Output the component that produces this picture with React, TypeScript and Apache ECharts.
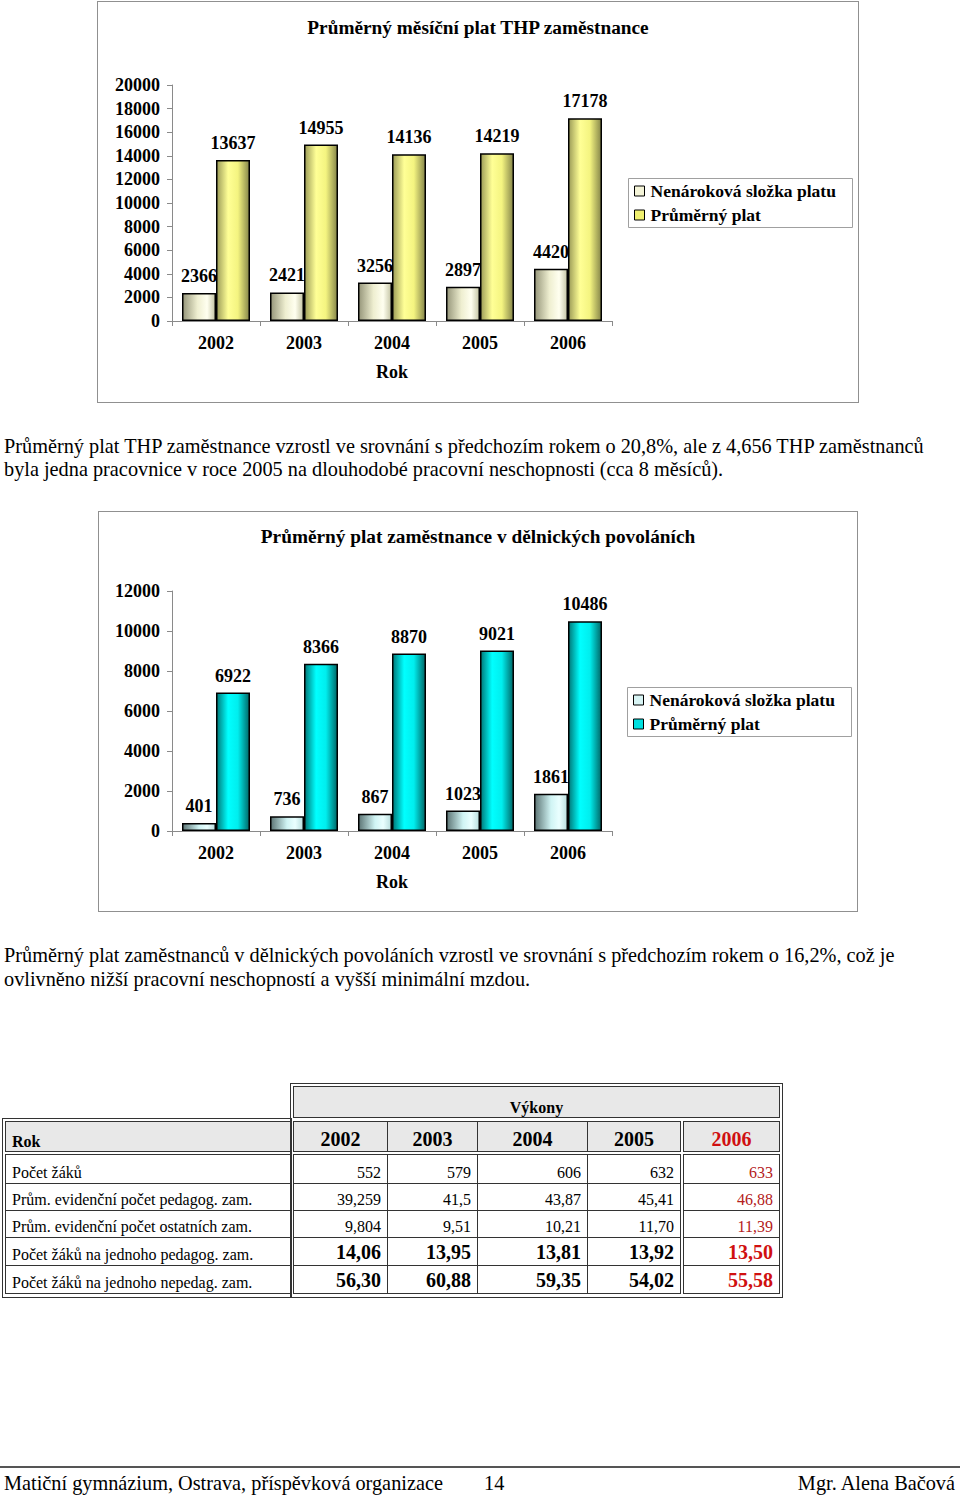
import React, { useEffect, useRef } from 'react';
import * as echarts from 'echarts';

const SERIF = '"Liberation Serif", "Times New Roman", serif';

const years = ['2002', '2003', '2004', '2005', '2006'];
const seriesNames = ['Nenároková složka platu', 'Průměrný plat'];
const thpBonus = [2366, 2421, 3256, 2897, 4420];
const thpAvg = [13637, 14955, 14136, 14219, 17178];
const workerBonus = [401, 736, 867, 1023, 1861];
const workerAvg = [6922, 8366, 8870, 9021, 10486];

const rowLabels = [
  'Počet žáků',
  'Prům. evidenční počet pedagog. zam.',
  'Prům. evidenční počet ostatních zam.',
  'Počet žáků na jednoho pedagog. zam.',
  'Počet žáků na jednoho nepedag. zam.',
];
const rowValues = [
  ['552', '579', '606', '632', '633'],
  ['39,259', '41,5', '43,87', '45,41', '46,88'],
  ['9,804', '9,51', '10,21', '11,70', '11,39'],
  ['14,06', '13,95', '13,81', '13,92', '13,50'],
  ['56,30', '60,88', '59,35', '54,02', '55,58'],
];
const rowBold = [false, false, false, true, true];

const grad = (stops: [number, string][]) => ({
  type: 'linear', x: 0, y: 0, x2: 1, y2: 0,
  colorStops: stops.map(([offset, color]) => ({ offset, color })),
});

const creamGrad = grad([[0, '#96967a'], [0.45, '#eeeed0'], [0.75, '#fffff0'], [1, '#c4c4a4']]);
const yellowGrad = grad([[0, '#9c9c58'], [0.35, '#ffff96'], [0.65, '#f4f480'], [1, '#86864a']]);
const paleCyanGrad = grad([[0, '#5c7474'], [0.5, '#d0f4f4'], [0.75, '#eaffff'], [1, '#b8dede']]);
const cyanGrad = grad([[0, '#007878'], [0.35, '#00ffff'], [0.65, '#00eeee'], [1, '#006868']]);

type ChartProps = {
  title: string;
  s1: number[];
  s2: number[];
  max: number;
  c1: any;
  c2: any;
  icon1: string;
  icon2: string;
  gridTop: number;
  gridHeight: number;
  gridLeft: number;
  titleTop: number;
  legendTop: number;
  legendLeft: number;
  width: number;
  height: number;
};

function BarChart(p: ChartProps) {
  const ref = useRef<HTMLDivElement>(null);
  useEffect(() => {
    if (!ref.current) return;
    const chart = echarts.init(ref.current, undefined, { renderer: 'svg' });
    const txt = { fontFamily: SERIF, fontWeight: 'bold' as const, fontSize: 18, color: '#000' };
    const mkSeries = (name: string, data: number[], color: any) => ({
      name,
      type: 'bar',
      data,
      barWidth: 34,
      barGap: '0%',
      itemStyle: { color, borderColor: '#000', borderWidth: 1.5 },
      label: {
        show: true,
        position: 'top',
        distance: 8,
        formatter: (v: any) => String(v.value),
        ...txt,
      },
    });
    chart.setOption({
      animation: false,
      title: {
        text: p.title,
        left: 'center',
        top: p.titleTop,
        textStyle: { fontFamily: SERIF, fontWeight: 'bold', fontSize: 19.3, color: '#000' },
      },
      graphic: [
        {
          type: 'rect',
          left: p.legendLeft,
          top: p.legendTop,
          shape: { width: 224, height: 49 },
          style: { fill: '#fff', stroke: '#a0a0a0', lineWidth: 1 },
          z: 0,
        },
      ],
      legend: {
        orient: 'vertical',
        left: p.legendLeft + 6,
        top: p.legendTop + 4,
        itemWidth: 10,
        itemHeight: 10,
        itemGap: 6,
        icon: 'rect',
        padding: 0,
        textStyle: { ...txt, fontSize: 17.5, padding: [0, 0, 0, 1] },
        data: [
          { name: seriesNames[0], itemStyle: { color: p.icon1, borderColor: '#000', borderWidth: 1 } },
          { name: seriesNames[1], itemStyle: { color: p.icon2, borderColor: '#000', borderWidth: 1 } },
        ],
        z: 5,
      },
      grid: { left: p.gridLeft, top: p.gridTop, width: 440, height: p.gridHeight, containLabel: false },
      xAxis: {
        type: 'category',
        data: years,
        name: 'Rok',
        nameLocation: 'middle',
        nameGap: 42,
        nameTextStyle: txt,
        axisLine: { lineStyle: { color: '#8a8a8a' } },
        axisTick: { show: true, length: 5, lineStyle: { color: '#8a8a8a' } },
        axisLabel: { ...txt, margin: 13 },
      },
      yAxis: {
        type: 'value',
        min: 0,
        max: p.max,
        interval: 2000,
        splitLine: { show: false },
        axisLine: { show: true, lineStyle: { color: '#8a8a8a' } },
        axisTick: { show: true, length: 5, lineStyle: { color: '#8a8a8a' } },
        axisLabel: { ...txt, margin: 12, formatter: (v: number) => String(v) },
      },
      series: [mkSeries(seriesNames[0], p.s1, p.c1), mkSeries(seriesNames[1], p.s2, p.c2)],
    });
    return () => chart.dispose();
  }, []);
  return <div ref={ref} style={{ width: p.width, height: p.height }} />;
}

const BODY = 20.3;

function Line({ top, left, text, size = BODY }: { top: number; left: number; text: string; size?: number }) {
  return (
    <div
      style={{
        position: 'absolute',
        left,
        top: top - size * 0.6,
        fontSize: size,
        lineHeight: `${Math.round(size * 1.2)}px`,
        whiteSpace: 'nowrap',
      }}
    >
      {text}
    </div>
  );
}

type CellProps = {
  l: number; r: number; t: number; b: number;
  text: string; align: 'left' | 'right' | 'center';
  size: number; bold?: boolean; color?: string; bg?: string; pb?: number;
};
function Cell(c: CellProps) {
  return (
    <div
      style={{
        position: 'absolute',
        left: c.l,
        top: c.t,
        width: c.r - c.l + 1,
        height: c.b - c.t + 1,
        boxSizing: 'border-box',
        border: '1px solid #333',
        background: c.bg || '#fff',
        display: 'flex',
        alignItems: 'flex-end',
        justifyContent: c.align === 'left' ? 'flex-start' : c.align === 'right' ? 'flex-end' : 'center',
        padding: `0 6px ${c.pb ?? 1}px 6px`,
        fontSize: c.size,
        lineHeight: `${Math.round(c.size * 1.15)}px`,
        fontWeight: c.bold ? 'bold' : 'normal',
        color: c.color || '#000',
        whiteSpace: 'nowrap',
      }}
    >
      {c.text}
    </div>
  );
}

const tblCols = [
  { l: 293, r: 387 },
  { l: 387, r: 477 },
  { l: 477, r: 587 },
  { l: 587, r: 680 },
  { l: 683, r: 779 },
];
const tblRows = [
  { t: 1154, b: 1183 },
  { t: 1183, b: 1210 },
  { t: 1210, b: 1237 },
  { t: 1237, b: 1265 },
  { t: 1265, b: 1293 },
];

function Table() {
  const cells: React.ReactNode[] = [];
  const headBg = '#e8e8e8';
  cells.push(
    <div key="frR" style={{ position: 'absolute', left: 290, top: 1083, width: 493, height: 215, boxSizing: 'border-box', border: '1px solid #333' }} />,
    <div key="frL" style={{ position: 'absolute', left: 2, top: 1118, width: 290, height: 180, boxSizing: 'border-box', border: '1px solid #333' }} />
  );
  cells.push(<Cell key="vyk" l={293} r={779} t={1086} b={1117} text="Výkony" align="center" size={16} bold bg={headBg} pb={0} />);
  cells.push(<Cell key="rok" l={5} r={290} t={1121} b={1151} text="Rok" align="left" size={16} bold bg={headBg} pb={0} />);
  years.forEach((y, i) => {
    cells.push(
      <Cell key={'y' + i} l={tblCols[i].l} r={tblCols[i].r} t={1121} b={1151} text={y} align="center" size={20} bold bg={headBg} color={i === 4 ? '#d01010' : '#000'} pb={0} />
    );
  });
  rowLabels.forEach((lab, ri) => {
    const row = tblRows[ri];
    cells.push(<Cell key={'l' + ri} l={5} r={290} t={row.t} b={row.b} text={lab} align="left" size={16} />);
    rowValues[ri].forEach((v, ci) => {
      cells.push(
        <Cell
          key={'v' + ri + '_' + ci}
          l={tblCols[ci].l}
          r={tblCols[ci].r}
          t={row.t}
          b={row.b}
          text={v}
          align="right"
          size={rowBold[ri] ? 20 : 16}
          bold={rowBold[ri]}
          color={ci === 4 ? (rowBold[ri] ? '#d01010' : '#b42020') : '#000'}
        />
      );
    });
  });
  return <>{cells}</>;
}

export default function App() {
  return (
    <div
      style={{
        position: 'absolute',
        left: 0,
        top: 0,
        width: 960,
        height: 1495,
        background: '#fff',
        fontFamily: SERIF,
        color: '#000',
        overflow: 'hidden',
      }}
    >
      <div style={{ position: 'absolute', left: 97, top: 1, width: 762, height: 402, boxSizing: 'border-box', border: '1px solid #909090' }}>
        <BarChart
          title="Průměrný měsíční plat THP zaměstnance"
          s1={thpBonus}
          s2={thpAvg}
          max={20000}
          c1={creamGrad}
          c2={yellowGrad}
          icon1="#f4f4d8"
          icon2="#f0f070"
          gridLeft={74}
          gridTop={83}
          gridHeight={236}
          titleTop={11}
          legendTop={176}
          legendLeft={530}
          width={760}
          height={400}
        />
      </div>
      <Line top={446} left={4} text="Průměrný plat THP zaměstnance vzrostl ve srovnání s předchozím rokem o 20,8%, ale z 4,656 THP zaměstnanců" />
      <Line top={469} left={4} text="byla jedna pracovnice v roce 2005 na dlouhodobé pracovní neschopnosti (cca 8 měsíců)." />
      <div style={{ position: 'absolute', left: 98, top: 511, width: 760, height: 401, boxSizing: 'border-box', border: '1px solid #909090' }}>
        <BarChart
          title="Průměrný plat zaměstnance v dělnických povoláních"
          s1={workerBonus}
          s2={workerAvg}
          max={12000}
          c1={paleCyanGrad}
          c2={cyanGrad}
          icon1="#d8f4f4"
          icon2="#00e0e0"
          gridLeft={73}
          gridTop={79}
          gridHeight={240}
          titleTop={10}
          legendTop={175}
          legendLeft={528}
          width={758}
          height={399}
        />
      </div>
      <Line top={955} left={4} text="Průměrný plat zaměstnanců v dělnických povoláních vzrostl ve srovnání s předchozím rokem o 16,2%, což je" />
      <Line top={979} left={4} text="ovlivněno nižší pracovní neschopností a vyšší minimální mzdou." />
      <Table />
      <div style={{ position: 'absolute', left: 0, top: 1466, width: 960, height: 2, background: '#555' }} />
      <Line top={1483} left={4} text="Matiční gymnázium, Ostrava, příspěvková organizace" />
      <Line top={1483} left={484} text="14" />
      <div
        style={{
          position: 'absolute',
          right: 5,
          top: 1483 - BODY * 0.6,
          fontSize: BODY,
          lineHeight: `${Math.round(BODY * 1.2)}px`,
          whiteSpace: 'nowrap',
        }}
      >
        Mgr. Alena Bačová
      </div>
    </div>
  );
}
